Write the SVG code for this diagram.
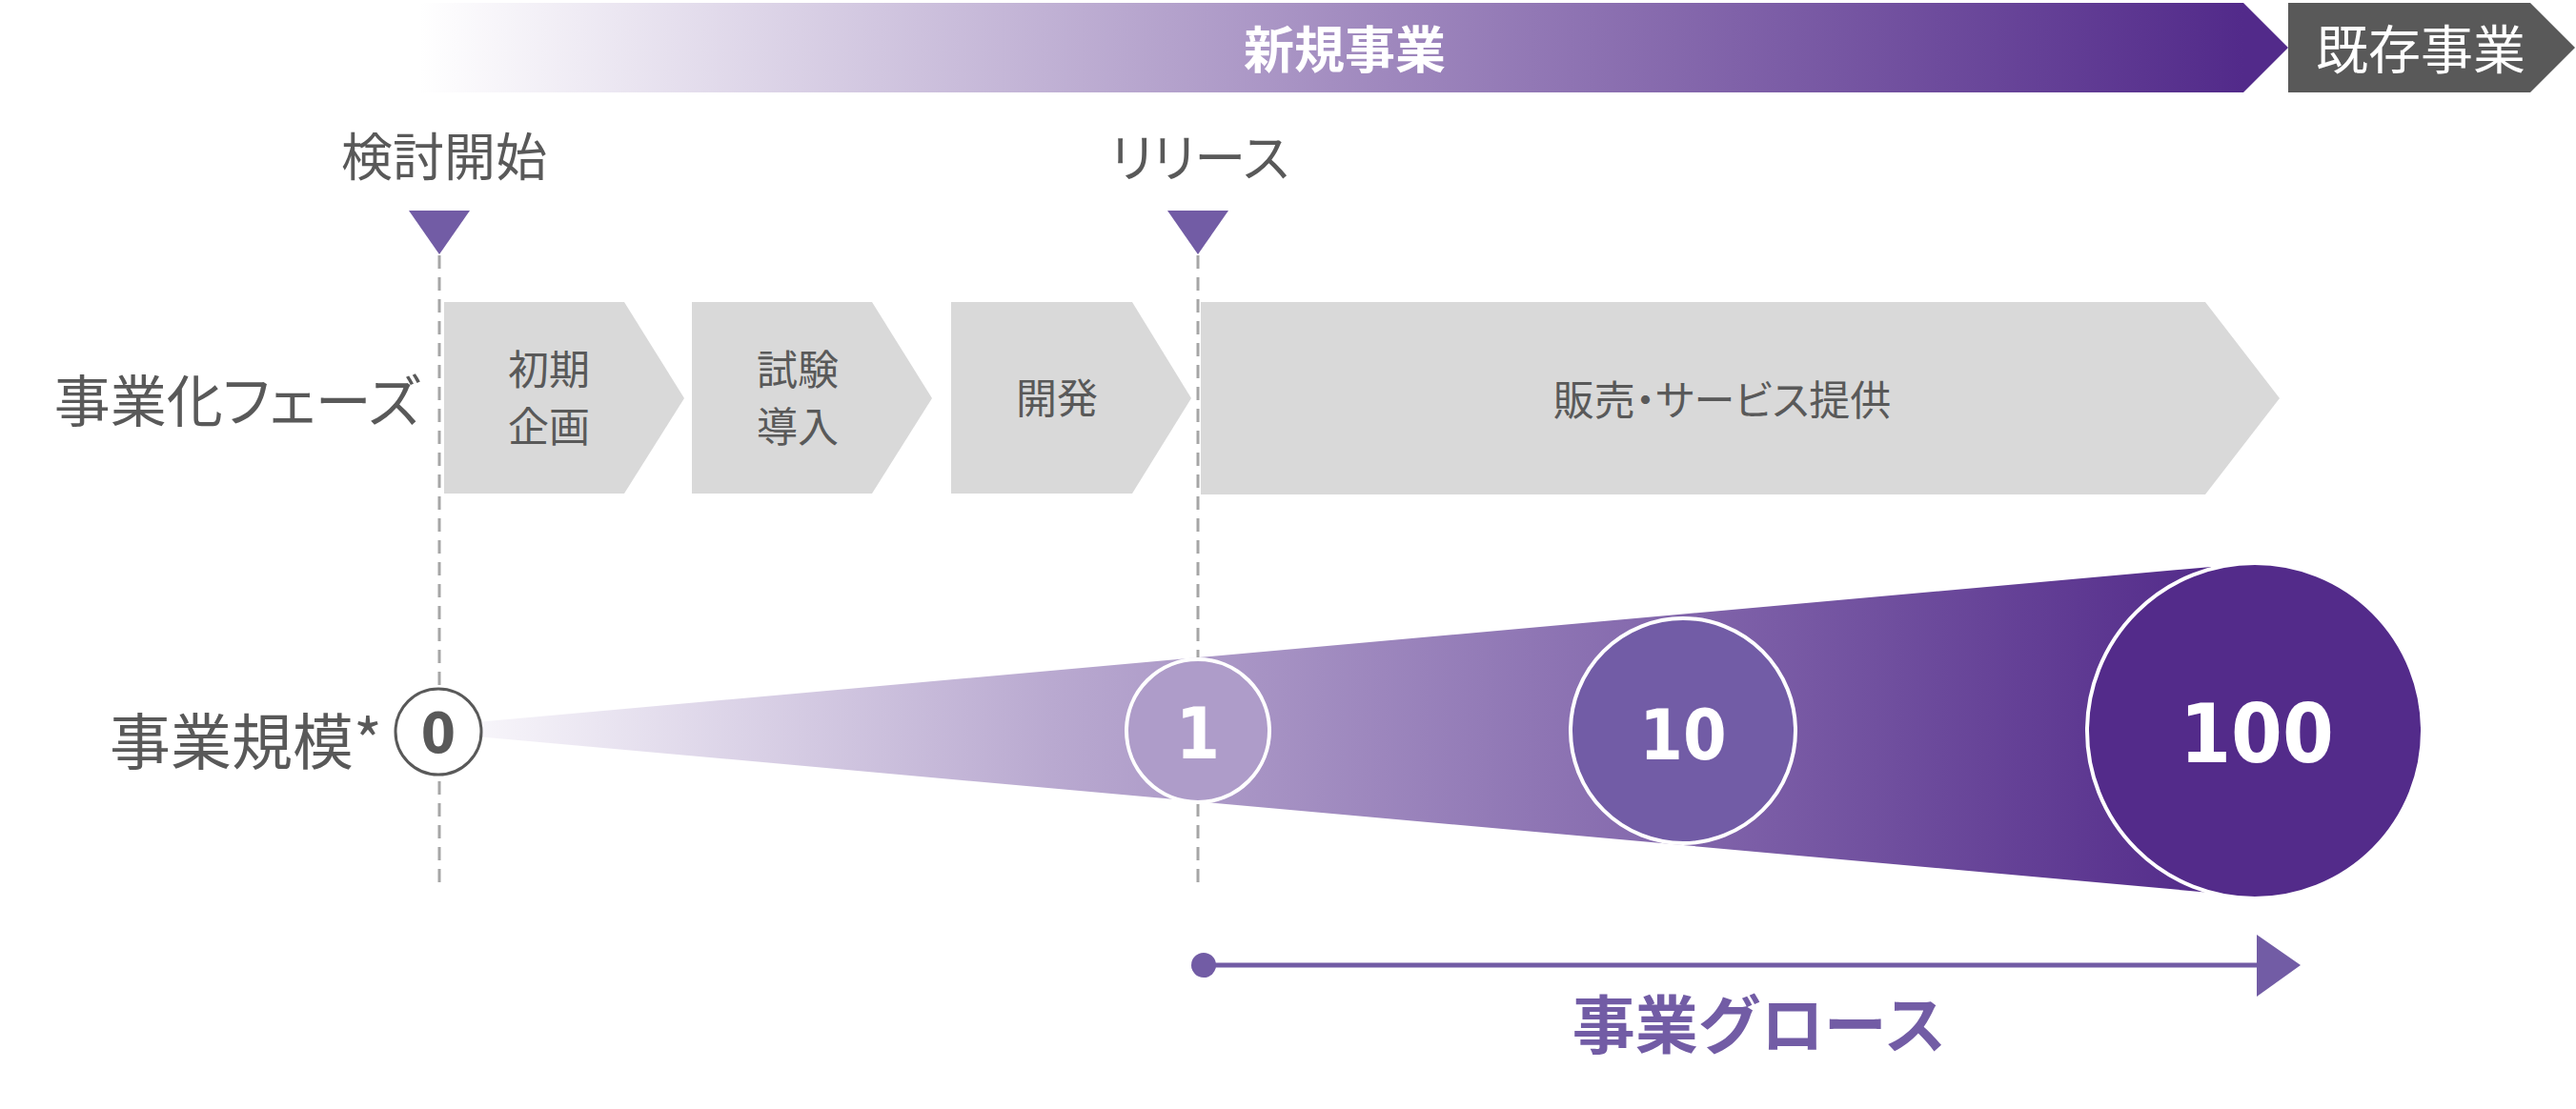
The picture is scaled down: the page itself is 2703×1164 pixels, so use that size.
<svg xmlns="http://www.w3.org/2000/svg" width="2703" height="1164" viewBox="0 0 2703 1164">
<defs>
<linearGradient id="gTop" x1="440" y1="0" x2="2354" y2="0" gradientUnits="userSpaceOnUse">
<stop offset="0" stop-color="#FFFFFF"/>
<stop offset="0.5" stop-color="#A48EC1"/>
<stop offset="1" stop-color="#522A8A"/>
</linearGradient>
<linearGradient id="gCone" x1="506" y1="0" x2="2320" y2="0" gradientUnits="userSpaceOnUse">
<stop offset="0" stop-color="#F7F5FA"/>
<stop offset="0.33" stop-color="#B9A9D0"/>
<stop offset="0.64" stop-color="#8A70B1"/>
<stop offset="1" stop-color="#532B8A"/>
</linearGradient>
<style>
.jp{font-family:"Noto Sans CJK JP","Noto Sans CJK SC",sans-serif;}
.palt{font-feature-settings:"palt" 1;}
.gray{fill:#595959;}
.lbl{font-size:59px;}
.ph{font-size:43px;text-anchor:middle;}
.ms{font-size:54px;text-anchor:middle;}
.num{font-family:"DejaVu Sans Condensed","DejaVu Sans",sans-serif;font-weight:bold;text-anchor:middle;fill:#FFFFFF;}
.chev{fill:#D9D9D9;}
.tri{fill:#725CA5;}
.dash{stroke:#A6A6A6;stroke-width:3;stroke-dasharray:14 9;fill:none;}
.ring{stroke:#FFFFFF;stroke-width:4;}
</style>
</defs>

<g id="bar-new">
<polygon points="440,3 2354,3 2401,50 2354,97 440,97" fill="url(#gTop)"/>
<text class="jp" x="1411" y="72" font-size="53" font-weight="bold" fill="#FFFFFF" text-anchor="middle">新規事業</text>
</g>
<g id="bar-existing">
<polygon points="2401,3 2655,3 2702,50 2655,97 2401,97" fill="#595959"/>
<text class="jp" x="2540" y="72" font-size="55" fill="#FFFFFF" text-anchor="middle">既存事業</text>
</g>

<g id="connectors">
<line class="dash" x1="461" y1="268" x2="461" y2="930"/>
<line class="dash" x1="1257" y1="268" x2="1257" y2="930"/>
<line x1="1263" y1="1013" x2="2372" y2="1013" stroke="#725CA5" stroke-width="5"/>
<circle cx="1263" cy="1013" r="13" fill="#725CA5"/>
<polygon points="2368,981 2414,1013 2368,1046" fill="#725CA5"/>
</g>

<g id="milestone-start">
<text class="jp gray ms" x="466" y="185">検討開始</text>
<polygon class="tri" points="429,221 493,221 461,267"/>
</g>
<g id="milestone-release">
<text class="jp gray ms palt" x="1259" y="186">リリース</text>
<polygon class="tri" points="1225,221 1289,221 1257,267"/>
</g>

<g id="label-phase">
<text class="jp gray lbl palt" x="441" y="443" text-anchor="end">事業化フェーズ</text>
</g>
<g id="phase-1">
<polygon class="chev" points="466,317 655,317 718,418 655,518 466,518"/>
<text class="jp gray ph" x="576" y="404">初期</text>
<text class="jp gray ph" x="576" y="464">企画</text>
</g>
<g id="phase-2">
<polygon class="chev" points="726,317 915,317 978,418 915,518 726,518"/>
<text class="jp gray ph" x="837" y="404">試験</text>
<text class="jp gray ph" x="837" y="464">導入</text>
</g>
<g id="phase-3">
<polygon class="chev" points="998,317 1188,317 1250,418 1188,518 998,518"/>
<text class="jp gray ph" x="1109" y="434">開発</text>
</g>
<g id="phase-4">
<polygon class="chev" points="1260,317 2314,317 2392,418 2314,519 1260,519"/>
<text class="jp gray ph palt" x="1807" y="436">販売・サービス提供</text>
</g>

<g id="label-scale">
<text class="jp gray" x="401" y="802" font-size="64" text-anchor="end">事業規模*</text>
</g>
<g id="cone">
<polygon points="500,758 2320,595 2320,937 500,773" fill="url(#gCone)"/>
</g>
<g id="scale-0">
<circle cx="460" cy="768" r="45" fill="#FFFFFF" stroke="#595959" stroke-width="3"/>
<text class="num" x="460" y="790" font-size="58" style="fill:#595959">0</text>
</g>
<g id="scale-1">
<circle class="ring" cx="1257" cy="767" r="75" fill="#AE9CC9"/>
<text class="num" x="1257" y="796" font-size="74">1</text>
</g>
<g id="scale-10">
<circle class="ring" cx="1766" cy="767" r="118" fill="#725CA6"/>
<text class="num" x="1766" y="797" font-size="73">10</text>
</g>
<g id="scale-100">
<circle class="ring" cx="2366" cy="767" r="176" fill="#532B8A"/>
<text class="num" x="2368" y="800" font-size="86">100</text>
</g>

<g id="label-growth">
<text class="jp" x="1846" y="1100" font-size="66" font-weight="bold" fill="#725CA5" text-anchor="middle">事業グロース</text>
</g>
</svg>
